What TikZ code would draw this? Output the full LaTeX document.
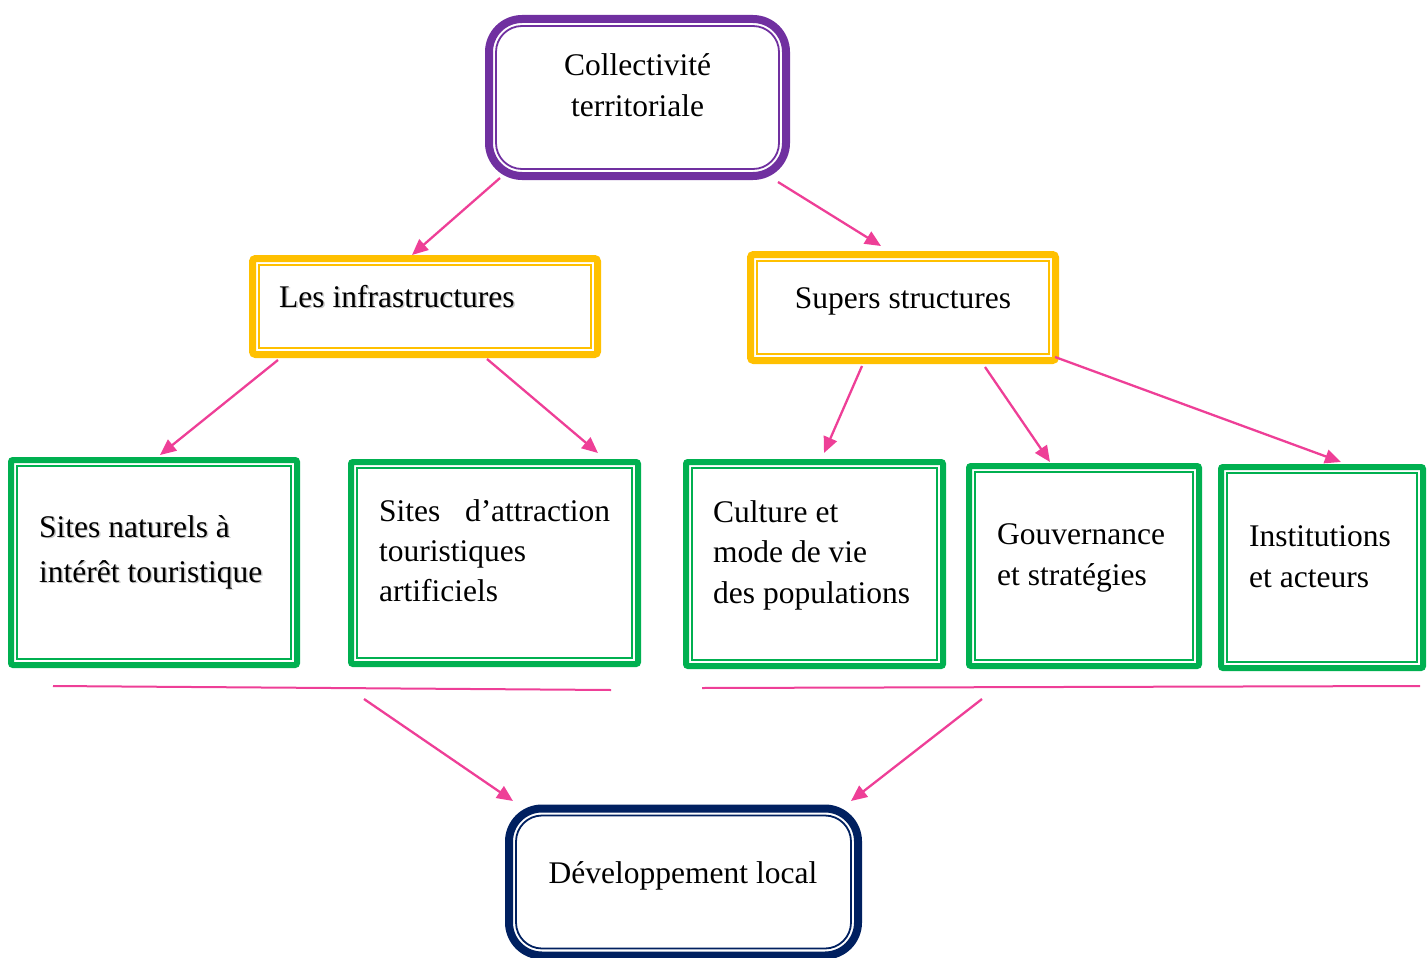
\documentclass[tikz,border=0pt]{standalone}
\usepackage{fontspec}
\setmainfont{Liberation Serif}
\usetikzlibrary{arrows.meta}
\definecolor{cpurple}{HTML}{7030A0}
\definecolor{cyellow}{HTML}{FFC000}
\definecolor{cgreen}{HTML}{00B050}
\definecolor{cnavy}{HTML}{002060}
\definecolor{cpink}{HTML}{EE3F97}
\tikzset{
  ob/.style={draw=#1, fill=white, inner sep=0pt, outer sep=0pt},
  ib/.style={draw=#1, line width=1.8pt, inner sep=0pt, outer sep=0pt},
  lbl/.style={anchor=base west, inner sep=0pt, font=\fontsize{31.5}{40}\selectfont, text=black},
  lblc/.style={anchor=base, inner sep=0pt, font=\fontsize{31.5}{40}\selectfont, text=black},
  shd/.style={anchor=base west, inner sep=0pt, font=\fontsize{31.5}{40}\selectfont, text=black!35, opacity=0.6},
  conn/.style={draw=cpink, line width=2.3pt, -{Triangle[length=16pt,width=14pt]}},
  bar/.style={draw=cpink, line width=2pt}
}
\begin{document}
\begin{tikzpicture}[x=1pt,y=-1pt]
\useasboundingbox (0,0) rectangle (1427,958);
% Collectivité
\node[ob=cpurple, line width=8pt, rounded corners=33pt, minimum width=297pt, minimum height=157pt] (coll) at (637.5,97.5) {};
\node[ib=cpurple, rounded corners=26pt, minimum width=283pt, minimum height=143pt] (coll-in) at (637.5,97.5) {};
\node[lblc] (coll-t1) at (637.5,76) {Collectivité};
\node[lblc] (coll-t2) at (637.5,116) {territoriale};
% Les infrastructures
\node[ob=cyellow, line width=7pt, rounded corners=3pt, minimum width=345pt, minimum height=96pt] (infra) at (425,306.5) {};
\node[ib=cyellow, minimum width=332pt, minimum height=83pt] (infra-in) at (425,306.5) {};
\node[shd] (infra-s) at (280.5,308.5) {Les infrastructures};
\node[lbl] (infra-t) at (279,307) {Les infrastructures};
% Supers structures
\node[ob=cyellow, line width=7pt, rounded corners=3pt, minimum width=305pt, minimum height=106pt] (sup) at (903,307.5) {};
\node[ib=cyellow, minimum width=292pt, minimum height=93pt] (sup-in) at (903,307.5) {};
\node[lblc] (sup-t) at (903,308) {Supers structures};
% Sites naturels
\node[ob=cgreen, line width=6pt, rounded corners=2pt, minimum width=286pt, minimum height=205pt] (nat) at (154,562.5) {};
\node[ib=cgreen, minimum width=274pt, minimum height=193pt] (nat-in) at (154,562.5) {};
\node[shd] (nat-s1) at (40.5,538.5) {Sites naturels à};
\node[shd] (nat-s2) at (40.5,583.5) {intérêt touristique};
\node[lbl] (nat-t1) at (39,537) {Sites naturels à};
\node[lbl] (nat-t2) at (39,582) {intérêt touristique};
% Sites d'attraction
\node[ob=cgreen, line width=6pt, rounded corners=2pt, minimum width=287pt, minimum height=202pt] (attr) at (494.5,563) {};
\node[ib=cgreen, minimum width=275pt, minimum height=190pt] (attr-in) at (494.5,563) {};
\node[lbl] (attr-t1) at (379,521) {\makebox[231pt][l]{Sites\hfill d’attraction}};
\node[lbl] (attr-t2) at (379,561) {touristiques};
\node[lbl] (attr-t3) at (379,601) {artificiels};
% Culture
\node[ob=cgreen, line width=6pt, rounded corners=2pt, minimum width=257pt, minimum height=204pt] (cult) at (814.5,564) {};
\node[ib=cgreen, minimum width=245pt, minimum height=192pt] (cult-in) at (814.5,564) {};
\node[lbl] (cult-t1) at (713,522) {Culture et};
\node[lbl] (cult-t2) at (713,562) {mode de vie};
\node[lbl] (cult-t3) at (713,603) {des populations};
% Gouvernance
\node[ob=cgreen, line width=6pt, rounded corners=2pt, minimum width=230pt, minimum height=200pt] (gouv) at (1084,566) {};
\node[ib=cgreen, minimum width=218pt, minimum height=188pt] (gouv-in) at (1084,566) {};
\node[lbl] (gouv-t1) at (997,544) {Gouvernance};
\node[lbl] (gouv-t2) at (997,585) {et stratégies};
% Institutions
\node[ob=cgreen, line width=6pt, rounded corners=2pt, minimum width=202pt, minimum height=201pt] (inst) at (1322,567.5) {};
\node[ib=cgreen, minimum width=190pt, minimum height=189pt] (inst-in) at (1322,567.5) {};
\node[lbl] (inst-t1) at (1249,546) {Institutions};
\node[lbl] (inst-t2) at (1249,587) {et acteurs};
% Développement local
\node[ob=cnavy, line width=8pt, rounded corners=33pt, minimum width=349pt, minimum height=147pt] (dev) at (683.5,882) {};
\node[ib=cnavy, rounded corners=26pt, minimum width=335pt, minimum height=133pt] (dev-in) at (683.5,882) {};
\node[lblc] (dev-t) at (683,883) {Développement local};
% connector points
\coordinate (a1s) at (500,178); \coordinate (a1e) at (412,255);
\coordinate (a2s) at (778,182); \coordinate (a2e) at (881,246);
\coordinate (a3s) at (278,360); \coordinate (a3e) at (160,455);
\coordinate (a4s) at (487,359); \coordinate (a4e) at (598,453);
\coordinate (a5s) at (862,366); \coordinate (a5e) at (824,453);
\coordinate (a6s) at (985,367); \coordinate (a6e) at (1050,462);
\coordinate (a7s) at (1055,357); \coordinate (a7e) at (1341,462);
\coordinate (b1s) at (53,686); \coordinate (b1e) at (611,690);
\coordinate (b2s) at (702,688); \coordinate (b2e) at (1420,686);
\coordinate (a8s) at (364,699); \coordinate (a8e) at (513,801);
\coordinate (a9s) at (982,699); \coordinate (a9e) at (851,801);
\draw[conn] (a1s) -- (a1e);
\draw[conn] (a2s) -- (a2e);
\draw[conn] (a3s) -- (a3e);
\draw[conn] (a4s) -- (a4e);
\draw[conn] (a5s) -- (a5e);
\draw[conn] (a6s) -- (a6e);
\draw[conn] (a7s) -- (a7e);
\draw[bar] (b1s) -- (b1e);
\draw[bar] (b2s) -- (b2e);
\draw[conn] (a8s) -- (a8e);
\draw[conn] (a9s) -- (a9e);
\end{tikzpicture}
\end{document}
